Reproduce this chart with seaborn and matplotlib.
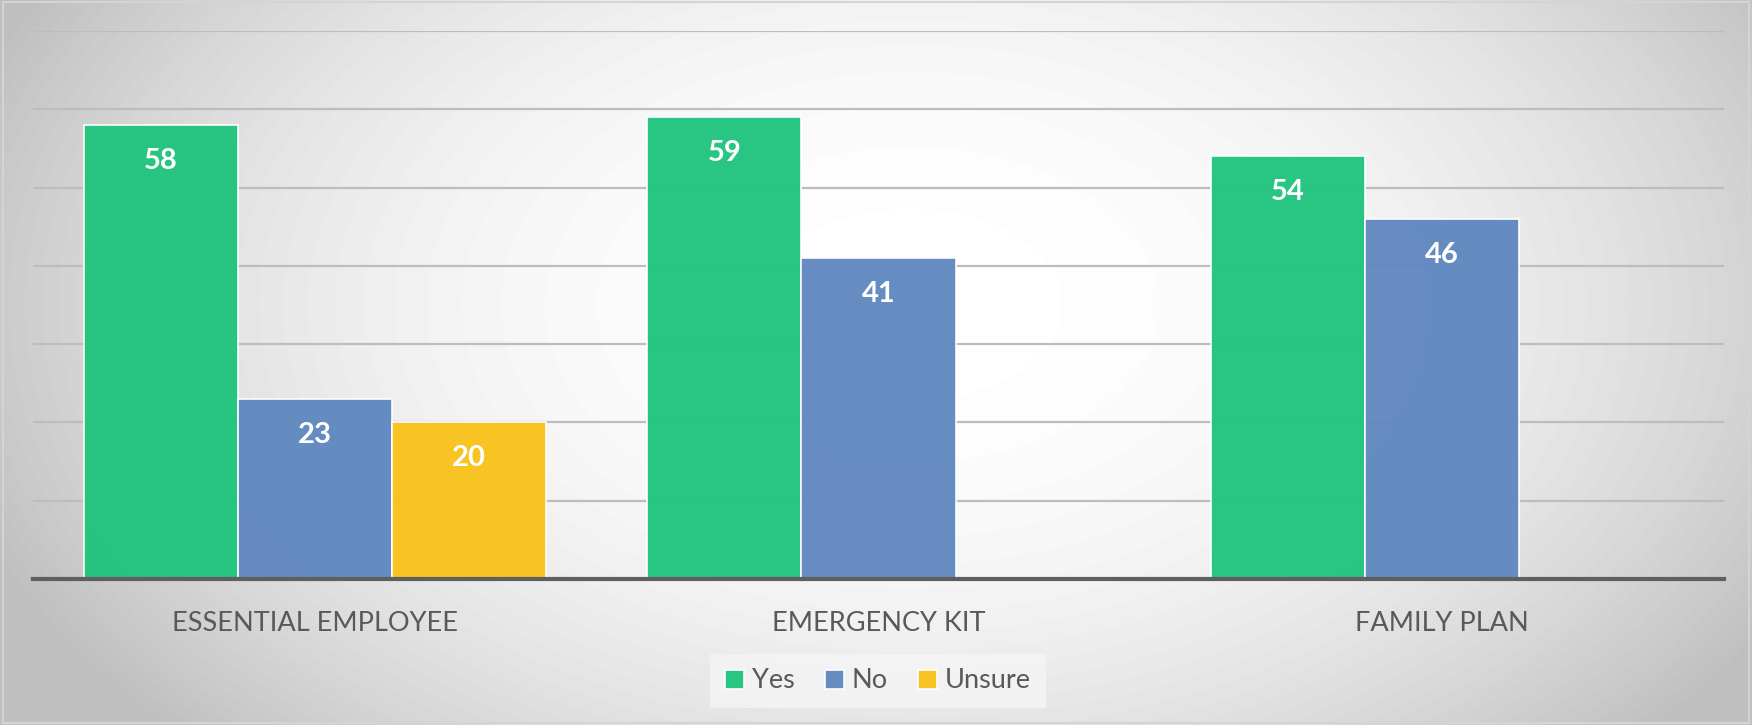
import numpy as np
import pandas as pd
import matplotlib
matplotlib.use("Agg")
import matplotlib.pyplot as plt
import seaborn as sns

# ---- data ----
categories = ["ESSENTIAL EMPLOYEE", "EMERGENCY KIT", "FAMILY PLAN"]
responses = ["Yes", "No", "Unsure"]
yes_vals = [58, 59, 54]
no_vals = [23, 41, 46]
unsure_vals = [20, None, None]
colors = ["#22C47F", "#6189C0", "#F8C31C"]

rows = []
for series, vals in zip(responses, [yes_vals, no_vals, unsure_vals]):
    for c, v in zip(categories, vals):
        if v is not None:
            rows.append({"cat": c, "resp": series, "val": v})
df = pd.DataFrame(rows)

sns.set_theme(style="white")
plt.rcParams["font.family"] = ["Lato", "DejaVu Sans"]

W, H = 1752, 725
fig = plt.figure(figsize=(W / 100, H / 100), dpi=100)

# radial gradient background
bg = fig.add_axes([0, 0, 1, 1], zorder=-10)
yy, xx = np.mgrid[0:H, 0:W]
cx, cy = 0.52 * W, 0.42 * H
r = np.sqrt(((xx - cx) / (0.62 * W)) ** 2 + ((yy - cy) / (0.95 * H)) ** 2)
g = 1.0 - 0.30 * np.clip(r, 0, 1.2) ** 2.2
g = np.clip(g, 0.75, 1.0)
bg.imshow(g, cmap="gray", vmin=0, vmax=1, aspect="auto", extent=[0, 1, 0, 1], origin="upper")
bg.set_axis_off()
bg.add_patch(plt.Rectangle((0.0015, 0.003), 0.997, 0.994, fill=False, ec="#D4D4D4", lw=1.5,
                           transform=bg.transAxes))

x0, x1 = 33, 1724
ytop, ybot = 31, 579
ax = fig.add_axes([x0 / W, (H - ybot) / H, (x1 - x0) / W, (ybot - ytop) / H])
ax.set_facecolor("none")

sns.barplot(data=df, x="cat", y="val", hue="resp", order=categories, hue_order=responses,
            palette=colors, width=0.82, edgecolor="white", linewidth=1.2, alpha=0.97,
            saturation=1, ax=ax, zorder=3)

ax.set_ylim(0, 70)
ax.set_xlim(-0.5, 2.5)
ax.set_yticks(range(10, 71, 10))
ax.yaxis.grid(True, color="#BDBDBD", lw=1.6, zorder=0)
ax.set_axisbelow(True)
ax.tick_params(axis="y", left=False, labelleft=False)
ax.tick_params(axis="x", bottom=False, pad=17, labelsize=19.5, labelcolor="#595959")
ax.set_xlabel("")
ax.set_ylabel("")
for s in ["top", "left", "right"]:
    ax.spines[s].set_visible(False)
ax.spines["bottom"].set_color("#5F5F5F")
ax.spines["bottom"].set_linewidth(3)
ax.spines["bottom"].set_zorder(5)

# data labels
for cont in ax.containers:
    for p in cont.patches:
        h = p.get_height()
        if np.isnan(h) or h == 0:
            continue
        ax.annotate(f"{int(round(h))}", (p.get_x() + p.get_width() / 2, h),
                    xytext=(0, -36 * 72 / 100), textcoords="offset points",
                    ha="center", va="center", color="white", fontsize=21,
                    fontweight="bold", zorder=6)

# legend
handles, labels = ax.get_legend_handles_labels()
ax.legend_.remove()
leg = fig.legend(handles, labels, loc="center", bbox_to_anchor=(878 / W, (H - 681) / H),
                 ncol=3, frameon=True, fontsize=19.5, handlelength=0.7, handleheight=0.7,
                 handletextpad=0.3, columnspacing=1.1, borderpad=0.55,
                 labelcolor="#595959")
leg.get_frame().set_facecolor("#F5F5F5")
leg.get_frame().set_edgecolor("none")
leg.get_frame().set_boxstyle("square", pad=0)

fig.savefig("out.png", dpi=100)
